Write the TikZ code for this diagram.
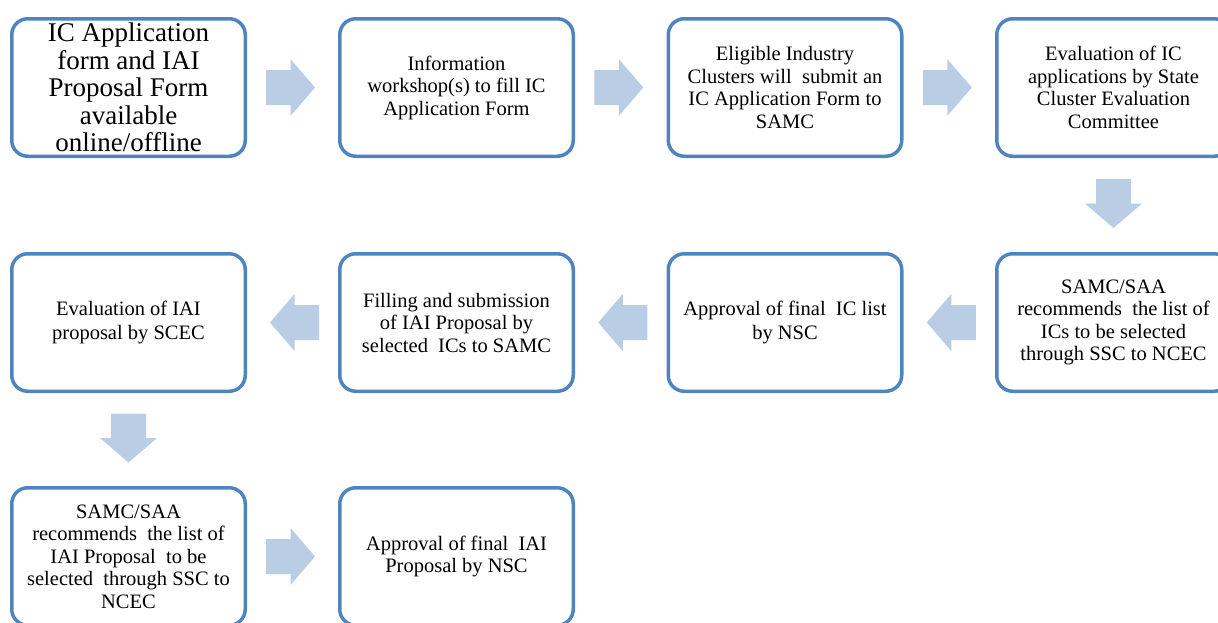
\documentclass[tikz,border=0pt]{standalone}
\usepackage{fontspec}
\setmainfont{Liberation Serif}
\usetikzlibrary{calc}
\definecolor{boxblue}{RGB}{80,132,192}
\definecolor{arrowblue}{RGB}{185,205,229}
\tikzset{
  flowbox/.style={draw=boxblue, line width=3.5pt, rounded corners=16pt, fill=white,
    minimum width=233.5pt, minimum height=137.5pt, align=center, inner sep=2pt,
    font=\fontsize{20.5}{22.5}\selectfont},
  bigtext/.style={font=\fontsize{27}{27.5}\selectfont},
  twoline/.style={font=\fontsize{20.5}{24}\selectfont},
  barrow/.pic={\fill[arrowblue] (-24.5,-17.5) -- (0,-17.5) -- (0,-28.5) -- (24.5,0)
     -- (0,28.5) -- (0,17.5) -- (-24.5,17.5) -- cycle;}
}
\begin{document}
\begin{tikzpicture}[x=1pt,y=-1pt]
\useasboundingbox (0,0) rectangle (1218,622);
\clip (0,0) rectangle (1218,622);
% row 1
\node[flowbox,bigtext] (b1) at (128.5,87.5) {IC Application\\form and IAI\\Proposal Form\\available\\online/offline};
\node[flowbox] (b2) at (456.5,87.5) {Information\\workshop(s) to fill IC\\Application Form};
\node[flowbox] (b3) at (785,87.5) {Eligible Industry\\Clusters will\ \ submit an\\IC Application Form to\\SAMC};
\node[flowbox] (b4) at (1113.5,87.5) {Evaluation of IC\\applications by State\\Cluster Evaluation\\Committee};
% row 2
\node[flowbox] (b5) at (1113.5,322.5) {SAMC/SAA\\recommends\ \ the list of\\ICs to be selected\\through SSC to NCEC};
\node[flowbox,twoline] (b6) at (785,322.5) {Approval of final\ \ IC list\\by NSC};
\node[flowbox] (b7) at (456.5,322.5) {Filling and submission\\of IAI Proposal by\\selected\ \ ICs to SAMC};
\node[flowbox,twoline] (b8) at (128.5,322.5) {Evaluation of IAI\\proposal by SCEC};
% row 3
\node[flowbox] (b9) at (128.5,556.5) {SAMC/SAA\\recommends\ \ the list of\\IAI Proposal\ \ to be\\selected\ \ through SSC to\\NCEC};
\node[flowbox] (b10) at (456.5,556.5) {Approval of final\ \ IAI\\Proposal by NSC};
% arrows
\pic at ($(b1.east)!0.5!(b2.west)+(-2,0)$) {barrow};
\pic at ($(b2.east)!0.5!(b3.west)+(-2,0)$) {barrow};
\pic at ($(b3.east)!0.5!(b4.west)+(-2,0)$) {barrow};
\pic[rotate=-90] at ($(b4.south)!0.5!(b5.north)+(0,-1.5)$) {barrow};
\pic[rotate=180] at ($(b5.west)!0.5!(b6.east)+(2,0)$) {barrow};
\pic[rotate=180] at ($(b6.west)!0.5!(b7.east)+(2,0)$) {barrow};
\pic[rotate=180] at ($(b7.west)!0.5!(b8.east)+(2,0)$) {barrow};
\pic[rotate=-90] at ($(b8.south)!0.5!(b9.north)+(0,-1.5)$) {barrow};
\pic at ($(b9.east)!0.5!(b10.west)+(-2,0)$) {barrow};
\end{tikzpicture}
\end{document}
